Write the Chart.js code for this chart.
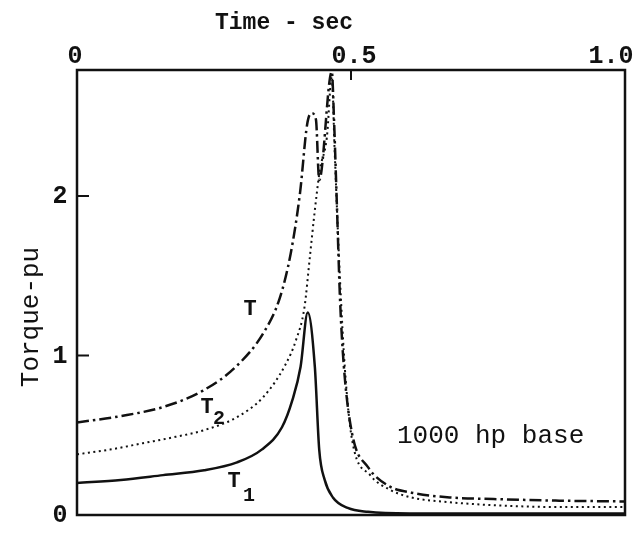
<!DOCTYPE html>
<html>
<head>
<meta charset="utf-8">
<script src="https://cdn.jsdelivr.net/npm/chart.js@4/dist/chart.umd.min.js"></script>
<style>
  body { margin: 0; background: #fff; }
  canvas { display: block; }
</style>
</head>
<body>
<canvas id="myChart" width="639" height="535"></canvas>
<script>
// time axis (sec) and torque (pu)
const tT  = [0, 0.08, 0.16, 0.23, 0.29, 0.34, 0.37, 0.39, 0.407, 0.42, 0.428, 0.436, 0.442, 0.465, 0.469, 0.474, 0.48, 0.487, 0.502, 0.531, 0.57, 0.61, 0.68, 0.76, 0.88, 1.0];
const vT  = [0.58, 0.62, 0.68, 0.78, 0.93, 1.14, 1.36, 1.64, 2.02, 2.45, 2.52, 2.48, 2.10, 2.78, 2.48, 1.97, 1.35, 0.93, 0.51, 0.30, 0.18, 0.14, 0.11, 0.10, 0.09, 0.085];

const tT2 = [0, 0.06, 0.12, 0.18, 0.23, 0.29, 0.34, 0.38, 0.40, 0.415, 0.425, 0.433, 0.443, 0.456, 0.465, 0.47, 0.48, 0.489, 0.502, 0.535, 0.57, 0.61, 0.68, 0.77, 0.88, 1.0];
const vT2 = [0.38, 0.41, 0.45, 0.49, 0.53, 0.61, 0.74, 0.94, 1.10, 1.30, 1.62, 1.88, 2.16, 2.37, 2.75, 2.30, 1.47, 0.91, 0.47, 0.25, 0.16, 0.11, 0.08, 0.06, 0.05, 0.05];

const tT1 = [0, 0.08, 0.157, 0.232, 0.292, 0.337, 0.374, 0.393, 0.408, 0.421, 0.434, 0.442, 0.452, 0.467, 0.494, 0.531, 0.607, 0.75, 1.0];
const vT1 = [0.20, 0.22, 0.25, 0.28, 0.33, 0.41, 0.55, 0.72, 0.93, 1.27, 0.93, 0.41, 0.22, 0.11, 0.044, 0.02, 0.01, 0.01, 0.01];

const xTicks = [0, 0.5, 1.0];
const xTickLabels = ['0', '0.5', '1.0'];
const yTicks = [0, 1, 2];
const yTickLabels = ['0', '1', '2'];

const MONO = "'Liberation Mono', 'DejaVu Sans Mono', monospace";
const INK = '#111';

function toPoints(ts, vs) {
  return ts.map((t, i) => ({ x: t, y: vs[i] }));
}

// frame, inward ticks and all the text
const framePlugin = {
  id: 'frame',
  afterDraw(chart) {
    const ctx = chart.ctx;
    const a = chart.chartArea;
    const xs = chart.scales.x;
    const ys = chart.scales.y;
    ctx.save();
    ctx.strokeStyle = INK;
    ctx.lineWidth = 2.5;
    ctx.strokeRect(a.left, a.top, a.right - a.left, a.bottom - a.top);

    // small tick at 0.5 pointing down, y ticks pointing right
    ctx.lineWidth = 2;
    ctx.beginPath();
    const xm = xs.getPixelForValue(0.5);
    ctx.moveTo(xm, a.top);
    ctx.lineTo(xm, a.top + 10);
    [1, 2].forEach(v => {
      const yp = ys.getPixelForValue(v);
      ctx.moveTo(a.left, yp);
      ctx.lineTo(a.left + 12, yp);
    });
    ctx.stroke();

    ctx.fillStyle = INK;
    ctx.textAlign = 'center';
    ctx.textBaseline = 'middle';

    // top tick labels
    ctx.font = 'bold 25px ' + MONO;
    const xShift = [-2, 3, -14];
    xTicks.forEach((v, i) => {
      ctx.fillText(xTickLabels[i], xs.getPixelForValue(v) + xShift[i], 57);
    });
    // left tick labels
    yTicks.forEach((v, i) => {
      ctx.fillText(yTickLabels[i], 60, ys.getPixelForValue(v) + 1);
    });

    // axis titles
    ctx.font = 'bold 23px ' + MONO;
    ctx.fillText('Time - sec', 284, 23);
    ctx.save();
    ctx.translate(31, 317);
    ctx.rotate(-Math.PI / 2);
    ctx.font = '26px ' + MONO;
    ctx.fillText('Torque-pu', 0, 0);
    ctx.restore();

    // curve labels
    ctx.font = 'bold 22px ' + MONO;
    ctx.fillText('T', 250, 309);
    ctx.fillText('T', 207, 407);
    ctx.fillText('T', 234, 481);
    ctx.font = 'bold 20px ' + MONO;
    ctx.fillText('2', 219, 419);
    ctx.fillText('1', 249, 496);

    ctx.font = '26px ' + MONO;
    ctx.textAlign = 'left';
    ctx.fillText('1000 hp base', 397, 436);
    ctx.restore();
  }
};

const ctx1 = document.getElementById('myChart').getContext('2d');

const chart1 = new Chart(ctx1, {
  type: 'line',
  data: {
    datasets: [
      {
        label: 'T',
        data: toPoints(tT, vT),
        borderColor: INK,
        borderWidth: 2.5,
        borderDash: [12, 4, 2.5, 4],
        pointRadius: 0,
        cubicInterpolationMode: 'monotone'
      },
      {
        label: 'T2',
        data: toPoints(tT2, vT2),
        borderColor: INK,
        borderWidth: 2,
        borderDash: [2, 3.5],
        pointRadius: 0,
        cubicInterpolationMode: 'monotone'
      },
      {
        label: 'T1',
        data: toPoints(tT1, vT1),
        borderColor: INK,
        borderWidth: 2.5,
        pointRadius: 0,
        cubicInterpolationMode: 'monotone'
      }
    ]
  },
  options: {
    responsive: false,
    animation: false,
    devicePixelRatio: 1,
    layout: { padding: { left: 0, right: 14, top: 0, bottom: 20 } },
    plugins: {
      legend: { display: false },
      tooltip: { enabled: false }
    },
    scales: {
      x: {
        type: 'linear',
        position: 'top',
        min: 0,
        max: 1,
        grid: { display: false },
        border: { display: false },
        ticks: { display: false },
        afterFit(scale) { scale.height = 70; }
      },
      y: {
        type: 'linear',
        min: 0,
        max: 2.79,
        grid: { display: false },
        border: { display: false },
        ticks: { display: false },
        afterFit(scale) { scale.width = 77; }
      }
    }
  },
  plugins: [framePlugin]
});
</script>
</body>
</html>
